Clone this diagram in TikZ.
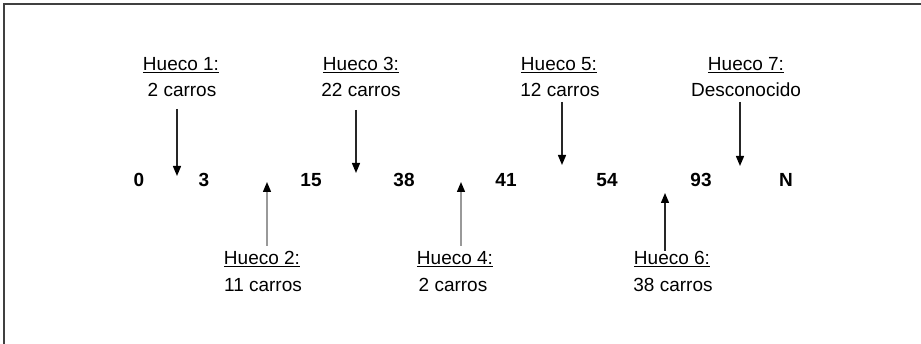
\documentclass[tikz,border=0pt]{standalone}
\usepackage{fontspec}
\setmainfont{Liberation Sans}
\usetikzlibrary{arrows.meta}
\tikzset{
  num/.style={anchor=base, inner sep=0pt, font=\fontsize{19}{22}\selectfont\bfseries},
  lbl/.style={anchor=base, inner sep=0pt, font=\fontsize{19}{22}\selectfont},
  arr/.style={line width=1.4pt, draw=black!85, -{Triangle[length=10pt,width=8pt,color=black]}},
  arrlight/.style={line width=1.4pt, draw=black!40, -{Triangle[length=10pt,width=8pt,color=black]}},
  frame/.style={line width=2pt, draw=black!75}
}
\begin{document}
\begin{tikzpicture}[x=1pt,y=-1pt]
\useasboundingbox (0,0) rectangle (921,344);
\fill[white] (0,0) rectangle (921,344);
% frame (only top and left edges visible)
\draw[frame] (921,4.5) -- (3.5,4.5) -- (3.5,344);
% numbers
\node[num] (n0)  at (139,187) {0};
\node[num] (n3)  at (204,187) {3};
\node[num] (n15) at (311,187) {15};
\node[num] (n38) at (404,187) {38};
\node[num] (n41) at (506,187) {41};
\node[num] (n54) at (607,187) {54};
\node[num] (n93) at (701,187) {93};
\node[num] (nN)  at (786,187) {N};
% top labels
\node[lbl] (h1) at (181,71) {\underline{Hueco 1:}};
\node[lbl] (c1) at (182,97) {2 carros};
\node[lbl] (h3) at (361,71) {\underline{Hueco 3:}};
\node[lbl] (c3) at (361,97) {22 carros};
\node[lbl] (h5) at (559,71) {\underline{Hueco 5:}};
\node[lbl] (c5) at (560,97) {12 carros};
\node[lbl] (h7) at (746,71) {\underline{Hueco 7:}};
\node[lbl] (c7) at (746,97) {Desconocido};
% bottom labels
\node[lbl] (h2) at (262,265) {\underline{Hueco 2:}};
\node[lbl] (c2) at (263,292) {11 carros};
\node[lbl] (h4) at (455,265) {\underline{Hueco 4:}};
\node[lbl] (c4) at (453,292) {2 carros};
\node[lbl] (h6) at (672,265) {\underline{Hueco 6:}};
\node[lbl] (c6) at (673,292) {38 carros};
% arrow ends
\coordinate (s1) at (177,109);  \coordinate (e1) at (177,176);
\coordinate (s3) at (356,110);  \coordinate (e3) at (356,173);
\coordinate (s5) at (562,102);  \coordinate (e5) at (562,165);
\coordinate (s7) at (740,102);  \coordinate (e7) at (740,166);
\coordinate (s2) at (267,246);  \coordinate (e2) at (267,182);
\coordinate (s4) at (461,246);  \coordinate (e4) at (461,182);
\coordinate (s6) at (665,251);  \coordinate (e6) at (665,193);
% arrows
\draw[arr] (s1) -- (e1);
\draw[arr] (s3) -- (e3);
\draw[arr] (s5) -- (e5);
\draw[arr] (s7) -- (e7);
\draw[arrlight] (s2) -- (e2);
\draw[arrlight] (s4) -- (e4);
\draw[arr] (s6) -- (e6);
\end{tikzpicture}
\end{document}
